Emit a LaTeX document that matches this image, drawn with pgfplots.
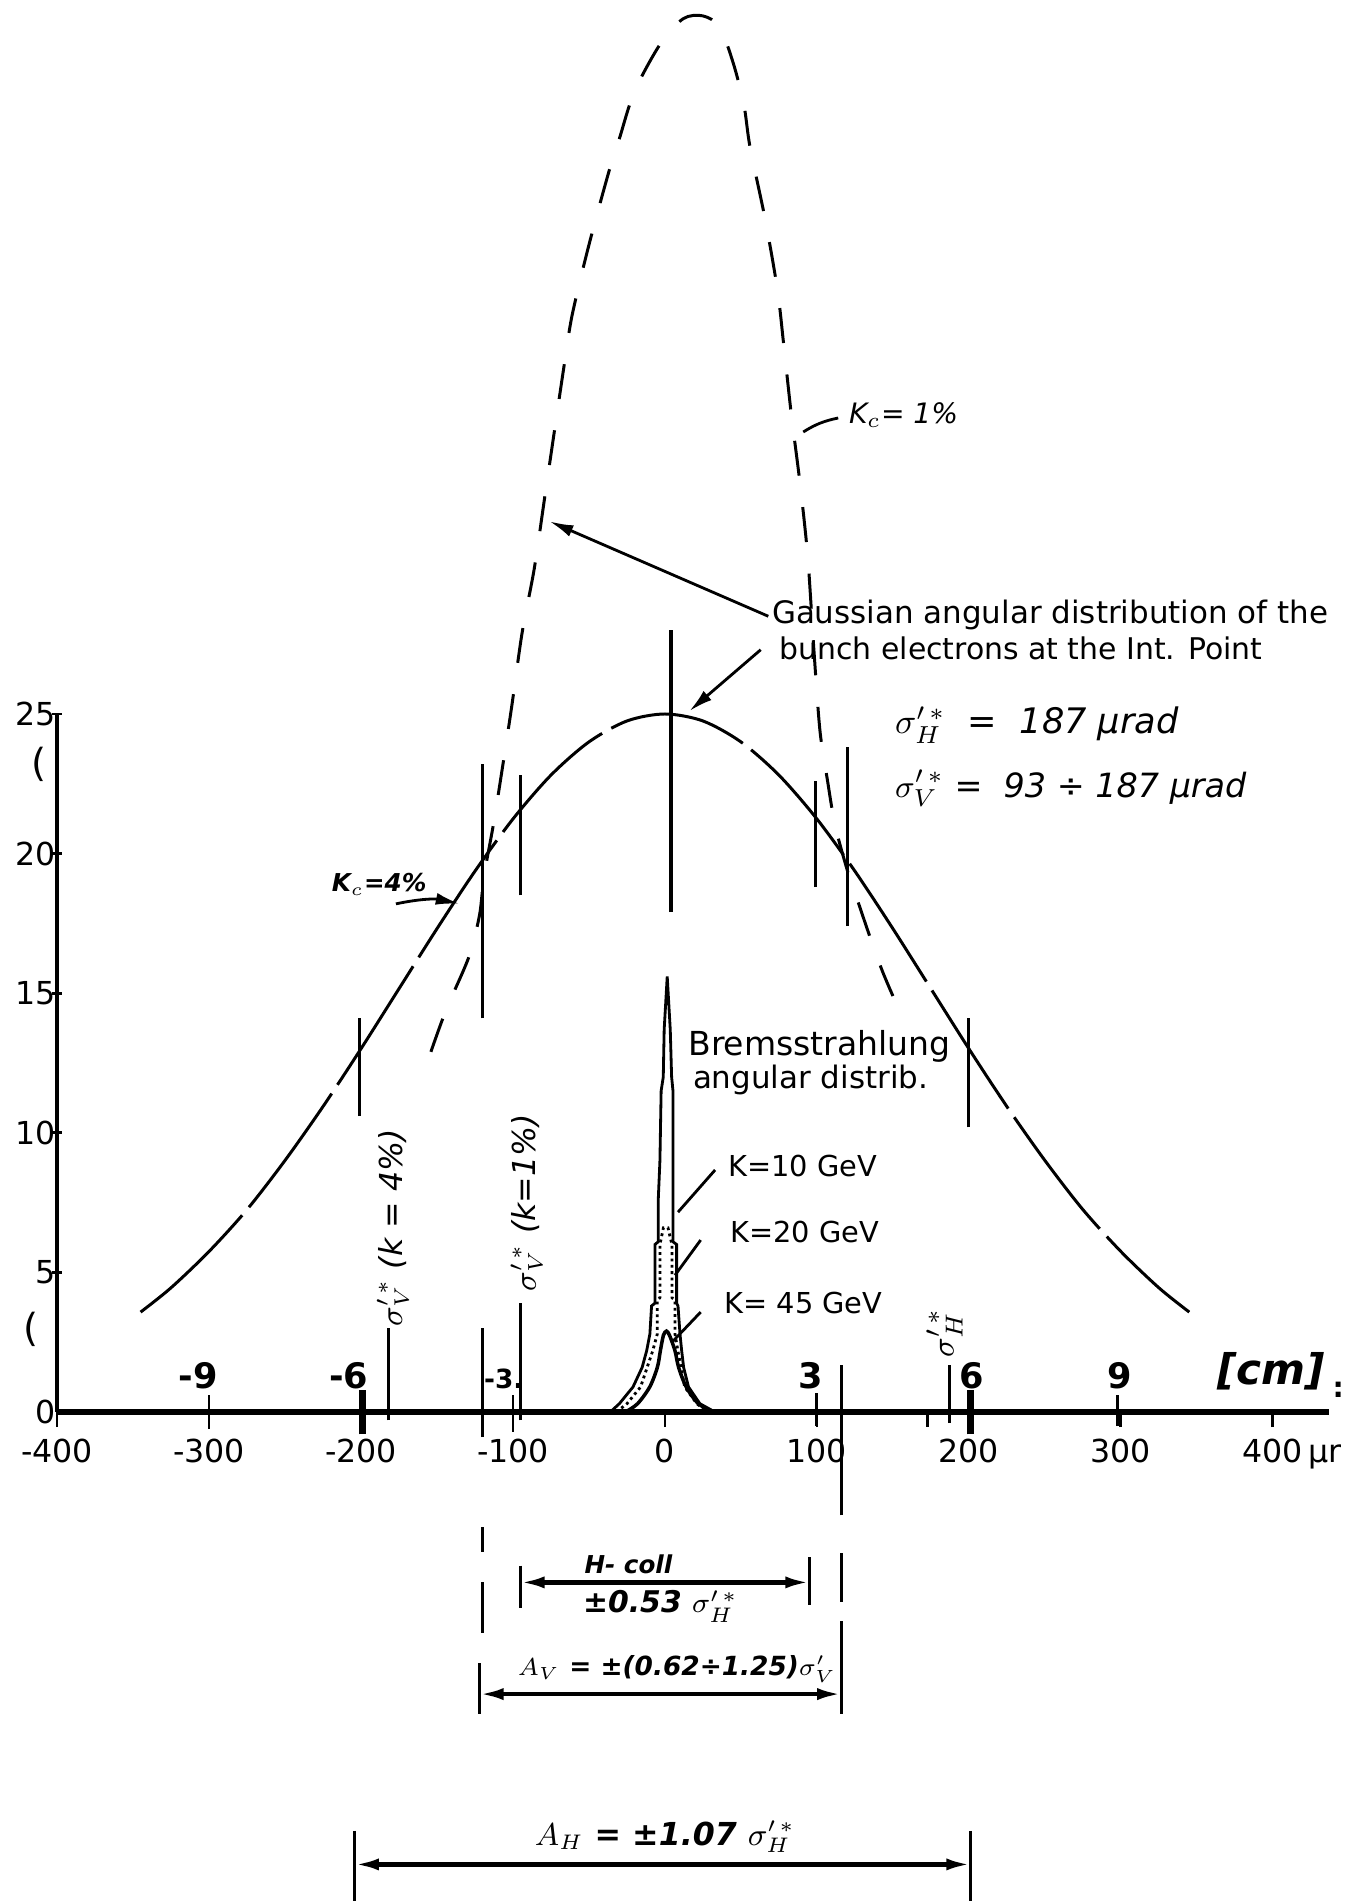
\documentclass[border=0pt]{standalone}
\usepackage{pgfplots}
\pgfplotsset{compat=1.18}
\usepackage{pgfplotstable}
\usepackage{fontspec}
\setmainfont{DejaVu Sans}
\usetikzlibrary{arrows.meta}

\newcommand\fs[1]{\fontsize{#1}{#1}\selectfont}
\newcommand\vl[3]{\addplot[black, line width=0.9pt] coordinates {(#1,#2) (#1,#3)};}

% wide Gaussian (K_c = 4%)
\pgfplotstableread{
x y
-345 3.58
-325 4.45
-300 5.75
-275 7.25
-250 9.01
-225 10.94
-200 13.01
-175 15.16
-150 17.31
-125 19.37
-100 21.24
-75 22.81
-50 24.00
-25 24.75
0 25.00
25 24.75
50 24.00
75 22.81
100 21.24
125 19.37
150 17.31
175 15.16
200 13.01
225 10.94
250 9.01
275 7.25
300 5.75
325 4.45
345 3.58
}\gaussH

% narrow dashed distribution (K_c = 1%)
\pgfplotstableread{
x y
-154 12.9
-144 14.4
-129 16.3
-122 17.8
-119 19.2
-113 21.0
-108 22.7
-101 25.2
-94 27.9
-86 30.2
-79 32.8
-72 35.4
-66 37.6
-61 39.3
-50 41.8
-37 44.4
-30 45.6
-20 47.3
-3 49.0
12 49.9
25 50.0
36 49.6
45 48.3
52 46.8
56 45.3
66 42.7
74 40.2
78 38.3
83 35.8
89 33.2
94 30.6
98 27.3
102 24.4
107 22.6
112 21.0
120 19.4
125 18.6
135 17.0
143 15.8
150 14.9
}\gaussK

% Bremsstrahlung K=10 GeV
\pgfplotstableread{
x y
-36 0
-30 0.3
-21 0.9
-15 1.6
-12 2.2
-9.9 2.8
-8.8 3.8
-6.6 3.9
-6.6 6.0
-4.4 6.1
-4.4 7.6
-3.3 9.0
-2.5 11.5
-1.1 12.0
-0.5 13.7
1.5 15.6
3.5 13.7
4.4 12.0
5.3 11.5
5.3 6.1
7.7 6.0
7.7 3.9
8.6 3.8
9.9 2.8
11 2.2
12.3 1.6
15.5 0.9
23 0.3
33 0
}\bremA

% Bremsstrahlung K=20 GeV
\pgfplotstableread{
x y
-32 0
-25 0.3
-16 0.9
-8 2.2
-5 2.8
-5 4.0
-3.3 4.1
-3.3 6.0
-1 6.6
2 6.6
4.6 6.0
4.6 4.1
6.6 4.0
6.6 2.8
8.5 2.2
13 0.9
21 0.3
28 0
}\bremB

% Bremsstrahlung K=45 GeV
\pgfplotstableread{
x y
-26 0
-18 0.3
-10 0.9
-5 1.6
-3 2.2
-1 2.75
1 2.9
3 2.75
6.6 2.2
9 1.6
14 0.9
22 0.3
32 0
}\bremC

\begin{document}
\begin{tikzpicture}[>={Latex[length=2.4mm,width=1.2mm]}]
\begin{axis}[
  x=0.0152cm, y=0.2792cm,
  xmin=-400, xmax=437, ymin=0, ymax=25,
  enlargelimits=false,
  clip=false,
  no marks,
  axis lines=left,
  axis line style={-},
  x axis line style={line width=1.6pt},
  y axis line style={line width=0.9pt},
  tick align=outside,
  major tick length=1.5mm,
  tick style={line width=0.8pt, black},
  ytick style={draw=none},
  xtick={-400,-300,...,400},
  xticklabels={-400,-300,-200,-100,0,100,200,300,{400\rlap{\,µr}}},
  ytick={0,5,...,25},
  yticklabels={0,5,10,15,20,25},
  ticklabel style={font=\fs{9}},
  yticklabel style={xshift=2.6mm},
]
\coordinate (TL) at (axis cs:-437.5,50.57);
\coordinate (BR) at (axis cs:450,-17.51);

% small y ticks
\draw[line width=0.8pt] (axis cs:-403,5) -- (axis cs:-397,5);
\draw[line width=0.8pt] (axis cs:-403,10) -- (axis cs:-397,10);
\draw[line width=0.8pt] (axis cs:-403,15) -- (axis cs:-397,15);
\draw[line width=0.8pt] (axis cs:-403,20) -- (axis cs:-397,20);
\draw[line width=0.8pt] (axis cs:-403,25) -- (axis cs:-397,25);

% curves
\addplot[black, line width=0.85pt, smooth, dash pattern=on 40pt off 3pt] table {\gaussH};
\addplot[black, line width=0.85pt, smooth, dash pattern=on 10pt off 9pt] table {\gaussK};
\addplot[black, line width=0.8pt, sharp plot] table {\bremA};
\addplot[black, line width=0.8pt, densely dotted, sharp plot] table {\bremB};
\addplot[black, line width=1pt, smooth] table {\bremC};

% vertical markers
\vl{4}{17.9}{28.0}
\vl{-120}{14.1}{23.2}
\vl{-95}{18.5}{22.8}
\vl{-201}{10.6}{14.1}
\vl{99}{18.8}{22.6}
\vl{120}{17.4}{23.8}
\vl{200}{10.2}{14.1}
\vl{-182}{-0.3}{3.0}
\vl{-95}{-0.3}{3.9}
\vl{187}{-0.4}{1.7}
\vl{-120}{-0.9}{3.0}
\vl{-120}{-5.0}{-4.1}
\vl{-120}{-7.9}{-6.1}
\vl{-122}{-10.8}{-9.0}
\vl{116}{-3.7}{1.7}
\vl{116}{-6.8}{-5.05}
\vl{116}{-10.8}{-7.5}

% cm scale ticks
\draw[line width=0.8pt] (axis cs:-300,-0.6) -- (axis cs:-300,0.6);
\draw[line width=2.2pt] (axis cs:-199,-0.8) -- (axis cs:-199,0.8);
\draw[line width=0.8pt] (axis cs:-100,-0.7) -- (axis cs:-100,0.6);
\draw[line width=0.8pt] (axis cs:99.5,-0.5) -- (axis cs:99.5,0.7);
\draw[line width=2.2pt] (axis cs:201,-0.8) -- (axis cs:201,0.8);
\draw[line width=0.8pt] (axis cs:298,-0.5) -- (axis cs:298,0.6);
\draw[line width=0.8pt] (axis cs:173,0) -- (axis cs:173,-0.55);
\node[font=\bfseries\fs{10}] at (axis cs:-307,1.3) {-9};
\node[font=\bfseries\fs{10}] at (axis cs:-208,1.3) {-6};
\node[font=\bfseries\fs{7.5}] at (axis cs:-106,1.2) {-3.};
\node[font=\bfseries\fs{10}] at (axis cs:96,1.3) {3};
\node[font=\bfseries\fs{10}] at (axis cs:202,1.3) {6};
\node[font=\bfseries\fs{10}] at (axis cs:299,1.3) {9};
\node[font=\bfseries\itshape\fs{12}] at (axis cs:399,1.45) {[cm]};
\node[font=\bfseries\fs{8}, inner sep=0pt] at (axis cs:443,0.8) {:};
\node[font=\fs{11}] at (axis cs:-412,23.2) {(};
\node[font=\fs{11}] at (axis cs:-417,2.95) {(};

% top-right texts
\node[anchor=west, inner sep=0pt, font=\fs{8.8}] at (axis cs:70,28.53) {Gaussian angular distribution of the};
\node[anchor=west, inner sep=0pt, font=\fs{8.5}] at (axis cs:75,27.35) {bunch electrons at the Int. Point};
\draw[->, line width=0.8pt] (axis cs:68,28.5) -- (axis cs:-76,31.9);
\draw[->, line width=0.8pt] (axis cs:63,27.3) -- (axis cs:16,25.1);
\node[anchor=west, inner sep=0pt, font=\itshape\fs{10}] at (axis cs:151,24.6) {$\sigma'^{\,*}_{H}$\ \ =\ \ 187 µrad};
\node[anchor=west, inner sep=0pt, font=\itshape\fs{9.5}] at (axis cs:151,22.35) {$\sigma'^{\,*}_{V}$\ =\ \ 93 ÷ 187 µrad};

% K_c labels
\node[font=\itshape\fs{8}] at (axis cs:157,35.7) {K$_c$= 1\%};
\draw[line width=0.8pt] (axis cs:91,35.1) to[bend left=10] (axis cs:114,35.6);
\node[font=\itshape\bfseries\fs{7}] at (axis cs:-188,18.9) {K$_c$=4\%};
\draw[->, line width=0.8pt] (axis cs:-177,18.2) to[bend left=12] (axis cs:-135,18.2);

% Bremsstrahlung texts
\node[anchor=west, inner sep=0pt, font=\fs{9.4}] at (axis cs:15,13.1) {Bremsstrahlung};
\node[anchor=west, inner sep=0pt, font=\fs{8.8}] at (axis cs:18,11.9) {angular distrib.};
\node[anchor=west, font=\fs{8.2}] at (axis cs:33.5,8.8) {K=10 GeV};
\node[anchor=west, font=\fs{8.2}] at (axis cs:35,6.45) {K=20 GeV};
\node[anchor=west, font=\fs{8.2}] at (axis cs:31,3.9) {K= 45 GeV};
\draw[line width=0.8pt] (axis cs:33,8.67) -- (axis cs:8.6,7.16);
\draw[line width=0.8pt] (axis cs:23.5,6.16) -- (axis cs:6.6,4.9);
\draw[line width=0.8pt] (axis cs:23.5,3.58) -- (axis cs:4.6,2.5);

% rotated sigma labels
\node[rotate=90, font=\itshape\fs{9}] at (axis cs:-179,6.6) {$\sigma'^{\,*}_{V}$ (k = 4\%)};
\node[rotate=90, font=\itshape\fs{9}] at (axis cs:-91,7.5) {$\sigma'^{\,*}_{V}$ (k=1\%)};
\node[rotate=90, anchor=west, inner sep=1pt, font=\itshape\fs{9.5}] at (axis cs:184,1.8) {$\sigma'^{\,*}_{H}$};

% bottom annotations
\draw[<->, line width=1.2pt] (axis cs:-95,-6.1) -- (axis cs:95,-6.1);
\draw[line width=0.9pt] (axis cs:-95,-5.5) -- (axis cs:-95,-7.0);
\draw[line width=0.9pt] (axis cs:95,-5.2) -- (axis cs:95,-6.9);
\node[font=\bfseries\itshape\fs{7}] at (axis cs:-24,-5.45) {H- coll};
\node[font=\bfseries\itshape\fs{8.5}] at (axis cs:-3,-6.95) {±0.53 $\sigma'^{\,*}_{H}$};
\draw[<->, line width=1.2pt] (axis cs:-122,-10.1) -- (axis cs:116,-10.1);
\node[font=\bfseries\itshape\fs{7.5}] at (axis cs:8,-9.2) {$A_V$ = ±(0.62÷1.25)$\sigma'_V$};
\draw[<->, line width=1.2pt] (axis cs:-204,-16.2) -- (axis cs:201,-16.2);
\draw[line width=0.9pt] (axis cs:-204,-15.0) -- (axis cs:-204,-17.6);
\draw[line width=0.9pt] (axis cs:201,-15.0) -- (axis cs:201,-17.6);
\node[font=\bfseries\itshape\fs{9}] at (axis cs:0,-15.2) {$A_H$ = ±1.07 $\sigma'^{\,*}_{H}$};
\end{axis}
\pgfresetboundingbox
\path[use as bounding box] (TL) rectangle (BR);
\end{tikzpicture}
\end{document}
